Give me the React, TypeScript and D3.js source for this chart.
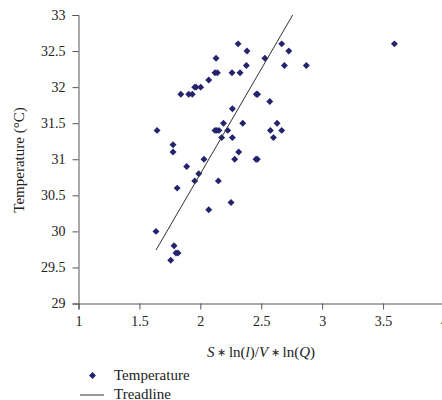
import * as d3 from 'd3';
import React, { useRef, useEffect } from 'react';

// S*ln(l)/V*ln(Q) values
const xValues = [
  1.645, 1.84, 1.905, 1.934, 1.954, 1.965, 2.003, 2.069, 2.129, 2.12, 2.14, 2.26,
  2.31, 2.326, 2.383, 2.378, 2.53, 2.46, 2.47, 2.57, 2.668, 2.726, 2.69, 2.87,
  3.593, 2.263, 2.19, 2.348, 2.12, 2.135, 2.153, 2.225, 2.175, 2.263, 2.575, 2.63,
  2.668, 2.6, 1.776, 1.776, 1.888, 2.03, 1.987, 1.954, 1.81, 2.148, 2.069, 2.282,
  2.315, 2.457, 2.468, 2.252, 1.636, 1.784, 1.80, 1.817, 1.757,
];
// temperature (°C)
const tempValues = [
  31.4, 31.9, 31.9, 31.9, 32.0, 32.0, 32.0, 32.1, 32.4, 32.2, 32.2, 32.2,
  32.6, 32.2, 32.5, 32.3, 32.4, 31.9, 31.9, 31.8, 32.6, 32.5, 32.3, 32.3,
  32.6, 31.7, 31.5, 31.5, 31.4, 31.4, 31.4, 31.4, 31.3, 31.3, 31.4, 31.5,
  31.4, 31.3, 31.2, 31.1, 30.9, 31.0, 30.8, 30.7, 30.6, 30.7, 30.3, 31.0,
  31.1, 31.0, 31.0, 30.4, 30.0, 29.8, 29.7, 29.7, 29.6,
];
// trendline end points
const trendX = [1.636, 2.758];
const trendY = [29.74, 33];

const xTicks = [1, 1.5, 2, 2.5, 3, 3.5, 4];
const yTicks = [29, 29.5, 30, 30.5, 31, 31.5, 32, 32.5, 33];

const font = '"Liberation Serif", "Times New Roman", serif';
const navy = '#23236e';
const axisColor = '#555';

function App() {
  const ref = useRef<SVGSVGElement>(null);

  useEffect(() => {
    const svg = d3.select(ref.current);
    svg.selectAll('*').remove();

    const x = d3.scaleLinear().domain([1, 4]).range([78.5, 444]);
    const y = d3.scaleLinear().domain([29, 33]).range([303.5, 15]);

    // y axis
    const gy = svg.append('g')
      .attr('transform', 'translate(78.5,0)')
      .call(d3.axisLeft(y).tickValues(yTicks).tickSize(6).tickPadding(7).tickFormat(d => String(d)));
    gy.select('.domain').attr('stroke', axisColor);
    gy.selectAll('line').attr('stroke', axisColor);
    gy.selectAll('text')
      .attr('font-family', font)
      .attr('font-size', 14)
      .attr('fill', '#222');

    // x axis
    const gx = svg.append('g')
      .attr('transform', 'translate(0,303.5)')
      .call(d3.axisBottom(x).tickValues(xTicks).tickSize(6).tickPadding(7).tickFormat(d => String(d)));
    gx.select('.domain').attr('stroke', axisColor);
    gx.selectAll('line').attr('stroke', axisColor);
    gx.selectAll('text')
      .attr('font-family', font)
      .attr('font-size', 14)
      .attr('fill', '#222');

    // points
    const pts = xValues.map((v, i) => [v, tempValues[i]]);
    const diamond = d3.symbol().type(d3.symbolSquare).size(24);
    svg.append('g')
      .selectAll('path')
      .data(pts)
      .enter()
      .append('path')
      .attr('d', diamond)
      .attr('transform', d => `translate(${x(d[0])},${y(d[1])}) rotate(45)`)
      .attr('fill', navy);

    // trendline
    const line = d3.line<number>()
      .x((d, i) => x(trendX[i]))
      .y(d => y(d));
    svg.append('path')
      .attr('d', line(trendY))
      .attr('fill', 'none')
      .attr('stroke', '#333')
      .attr('stroke-width', 1);

    // y label
    svg.append('text')
      .attr('transform', 'translate(24,160) rotate(-90)')
      .attr('text-anchor', 'middle')
      .attr('font-family', font)
      .attr('font-size', 15)
      .attr('fill', '#222')
      .text('Temperature (°C)');

    // x label
    const xl = svg.append('text')
      .attr('x', 261)
      .attr('y', 357)
      .attr('text-anchor', 'middle')
      .attr('font-family', font)
      .attr('font-size', 15)
      .attr('fill', '#222');
    xl.append('tspan').attr('font-style', 'italic').text('S');
    xl.append('tspan').attr('font-size', 11).attr('dy', -1).text(' ∗ ');
    xl.append('tspan').attr('dy', 1).text('ln(');
    xl.append('tspan').attr('font-style', 'italic').text('l');
    xl.append('tspan').text(')/');
    xl.append('tspan').attr('font-style', 'italic').text('V');
    xl.append('tspan').attr('font-size', 11).attr('dy', -1).text(' ∗ ');
    xl.append('tspan').attr('dy', 1).text('ln(');
    xl.append('tspan').attr('font-style', 'italic').text('Q');
    xl.append('tspan').text(')');

    // legend
    svg.append('path')
      .attr('d', diamond)
      .attr('transform', 'translate(92.5,375.5) rotate(45)')
      .attr('fill', navy);
    svg.append('text')
      .attr('x', 114)
      .attr('y', 380)
      .attr('font-family', font)
      .attr('font-size', 15)
      .attr('fill', '#222')
      .text('Temperature');
    svg.append('line')
      .attr('x1', 80).attr('x2', 104)
      .attr('y1', 395).attr('y2', 395)
      .attr('stroke', '#333');
    svg.append('text')
      .attr('x', 114)
      .attr('y', 399)
      .attr('font-family', font)
      .attr('font-size', 15)
      .attr('fill', '#222')
      .text('Treadline');
  }, []);

  return (
    <svg
      ref={ref}
      width={442}
      height={400}
      style={{ position: 'absolute', left: 0, top: 0, background: '#fff' }}
    />
  );
}

export default App;
